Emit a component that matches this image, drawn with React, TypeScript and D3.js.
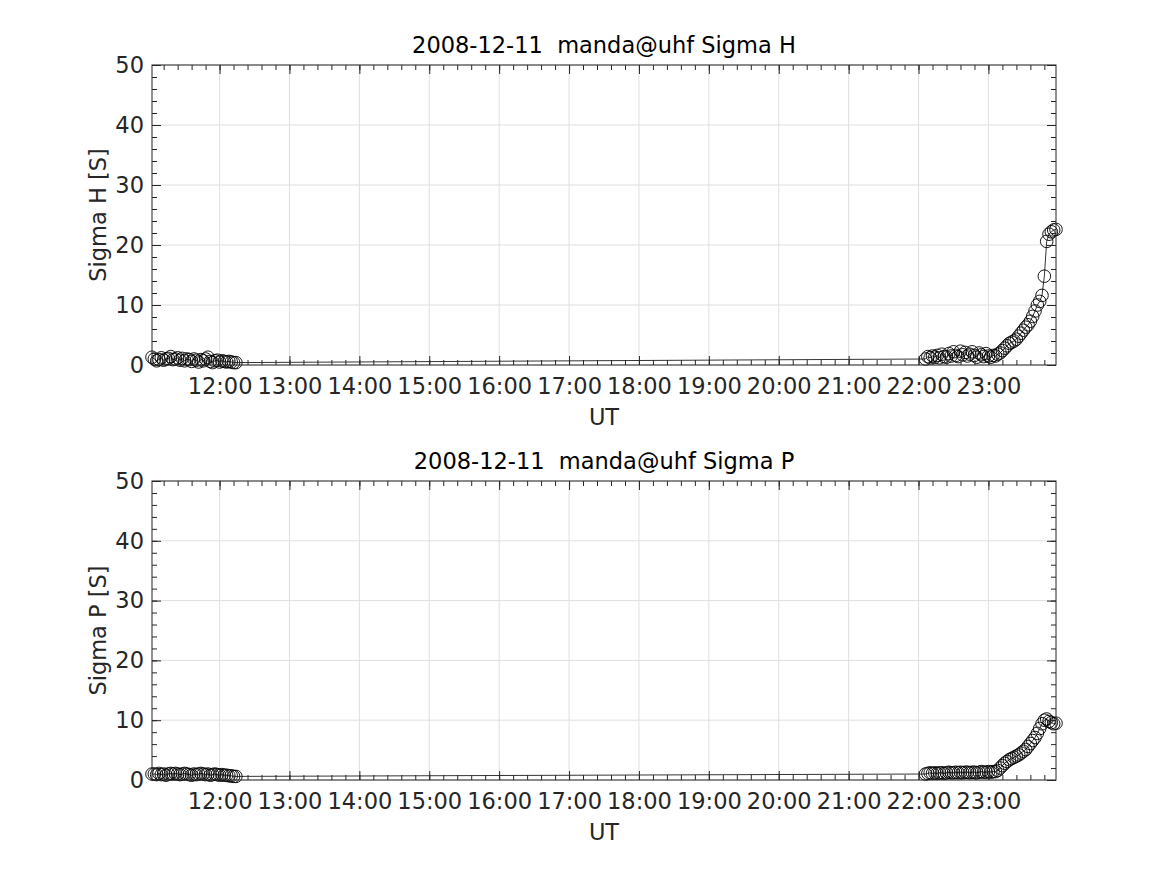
import React from "react";
import * as d3 from "d3";

// UT sample times (2008-12-11)
const times = [
  "11:02", "11:04", "11:06", "11:08", "11:10", "11:12", "11:14", "11:16", "11:18", "11:20",
  "11:22", "11:24", "11:26", "11:28", "11:30", "11:32", "11:34", "11:36", "11:38", "11:40",
  "11:42", "11:44", "11:46", "11:48", "11:50", "11:52", "11:54", "11:56", "11:58",
  "12:00", "12:02", "12:04", "12:06", "12:08", "12:10", "12:12", "12:14",
  "22:06", "22:08", "22:10", "22:12", "22:14", "22:16", "22:18", "22:20", "22:22", "22:24",
  "22:26", "22:28", "22:30", "22:32", "22:34", "22:36", "22:38", "22:40", "22:42", "22:44",
  "22:46", "22:48", "22:50", "22:52", "22:54", "22:56", "22:58",
  "23:00", "23:02", "23:04", "23:06", "23:08", "23:10", "23:12", "23:14", "23:16", "23:18",
  "23:20", "23:22", "23:24", "23:26", "23:28", "23:30", "23:32", "23:34", "23:36", "23:38",
  "23:40", "23:42", "23:44", "23:46", "23:48", "23:50", "23:52", "23:54", "23:56", "23:58",
];

const sigmaH = [
  1.3, 1.0, 0.7, 0.9, 1.2, 0.8, 1.0, 1.1, 1.4, 0.9, 1.0, 1.2, 0.8, 1.1, 0.7, 1.0, 0.9, 0.6, 1.0, 0.8,
  0.5, 0.9, 0.7, 1.0, 1.3, 0.6, 0.4, 0.7, 0.8, 0.5, 0.7, 0.6, 0.5, 0.6, 0.5, 0.4, 0.4,
  1.0, 1.4, 1.2, 1.5, 1.3, 1.6, 1.2, 1.8, 1.4, 1.3, 1.9, 1.5, 2.2, 1.6, 1.4, 2.3, 1.7, 2.1, 1.5, 1.8,
  2.2, 1.6, 1.3, 2.0, 1.7, 1.4, 1.9, 1.5, 1.3, 1.6, 1.5,
  1.8, 2.0, 2.4, 2.8, 3.2, 3.6, 3.8, 4.0, 4.3, 4.8, 5.3, 5.8, 6.3, 6.7, 7.3, 8.1, 9.0, 10.0, 10.6, 11.6,
  14.8, 20.6, 21.8, 22.2, 22.5, 22.6,
];

const sigmaP = [
  1.0, 1.0, 0.9, 1.1, 0.9, 1.0, 0.8, 1.0, 1.1, 1.0, 1.1, 1.0, 0.9, 1.0, 1.1, 1.0, 0.9, 0.8, 1.0, 0.9,
  1.0, 1.1, 1.0, 0.9, 1.0, 0.8, 0.9, 1.0, 0.9, 0.8, 0.9, 0.8, 0.8, 0.7, 0.7, 0.6, 0.6,
  1.0, 1.1, 1.2, 1.1, 1.2, 1.1, 1.2, 1.2, 1.1, 1.2, 1.3, 1.2, 1.2, 1.3, 1.2, 1.3, 1.2, 1.3, 1.3, 1.2,
  1.3, 1.3, 1.2, 1.3, 1.4, 1.3, 1.3, 1.4, 1.3, 1.4, 1.4,
  1.6, 2.0, 2.4, 2.8, 3.1, 3.4, 3.6, 3.8, 4.0, 4.2, 4.5, 4.8, 5.1, 5.6, 6.1, 6.6, 7.1, 7.8, 8.6, 9.4,
  10.0, 10.2, 9.8, 9.6, 9.4, 9.5,
];

const yTicks = [0, 10, 20, 30, 40, 50];
const dateLabel = "2008-12-11";
const site = "manda@uhf";

const panels = [
  { name: "Sigma H", values: sigmaH, top: 65, bottom: 365 },
  { name: "Sigma P", values: sigmaP, top: 481, bottom: 780 },
];

const W = 1167, H = 875;
const left = 152, right = 1056;
const ink = "#262626";
const font = "'DejaVu Sans', sans-serif";

const App = () => {
  const ref = React.useRef(null);

  React.useEffect(() => {
    const svg = d3.select(ref.current);
    svg.selectAll("*").remove();

    const parse = d3.utcParse("%H:%M");
    const t = times.map((s) => parse(s));

    const x = d3.scaleUtc().domain(d3.extent(t)).range([left, right]);
    const majorX = x.ticks(d3.utcHour.every(1));
    const minorX = x.ticks(d3.utcMinute.every(12));

    panels.forEach((p) => {
      const y = d3.scaleLinear().domain([0, 50]).range([p.bottom, p.top]);
      const minorY = d3.range(0, 51, 2);
      const g = svg.append("g");
      const pts = t.map((d, i) => [d, p.values[i]]);

      // grid
      g.append("g")
        .selectAll("line")
        .data(majorX)
        .join("line")
        .attr("x1", (d) => x(d)).attr("x2", (d) => x(d))
        .attr("y1", p.top).attr("y2", p.bottom)
        .attr("stroke", "#dfdfdf");
      g.append("g")
        .selectAll("line")
        .data(yTicks)
        .join("line")
        .attr("x1", left).attr("x2", right)
        .attr("y1", (d) => y(d)).attr("y2", (d) => y(d))
        .attr("stroke", "#dfdfdf");

      // data line + markers
      g.append("path")
        .datum(pts)
        .attr("fill", "none")
        .attr("stroke", "#000")
        .attr("stroke-width", 0.8)
        .attr("d", d3.line().x((d) => x(d[0])).y((d) => y(d[1])));
      g.append("g")
        .selectAll("circle")
        .data(pts)
        .join("circle")
        .attr("cx", (d) => x(d[0]))
        .attr("cy", (d) => y(d[1]))
        .attr("r", 6.3)
        .attr("fill", "none")
        .attr("stroke", "#000")
        .attr("stroke-width", 0.9);

      // axes, ticks pointing inward on all four sides
      const axes = [
        [d3.axisBottom(x).tickValues(majorX).tickSize(-9).tickPadding(13).tickFormat(d3.utcFormat("%H:%M")), `translate(0,${p.bottom})`],
        [d3.axisBottom(x).tickValues(minorX).tickSize(-5).tickFormat(""), `translate(0,${p.bottom})`],
        [d3.axisTop(x).tickValues(majorX).tickSize(-9).tickFormat(""), `translate(0,${p.top})`],
        [d3.axisTop(x).tickValues(minorX).tickSize(-5).tickFormat(""), `translate(0,${p.top})`],
        [d3.axisLeft(y).tickValues(yTicks).tickSize(-9).tickPadding(8), `translate(${left},0)`],
        [d3.axisLeft(y).tickValues(minorY).tickSize(-5).tickFormat(""), `translate(${left},0)`],
        [d3.axisRight(y).tickValues(yTicks).tickSize(-9).tickFormat(""), `translate(${right},0)`],
        [d3.axisRight(y).tickValues(minorY).tickSize(-5).tickFormat(""), `translate(${right},0)`],
      ];
      axes.forEach(([ax, tr]) => {
        const a = g.append("g").attr("transform", tr).call(ax);
        a.select(".domain").remove();
        a.selectAll("line").attr("stroke", ink);
        a.selectAll("text").attr("fill", ink).attr("font-size", 22.5).attr("font-family", font);
      });

      g.append("rect")
        .attr("x", left).attr("y", p.top)
        .attr("width", right - left).attr("height", p.bottom - p.top)
        .attr("fill", "none").attr("stroke", ink);

      // labels
      g.append("text")
        .attr("x", (left + right) / 2).attr("y", p.top - 12)
        .attr("text-anchor", "middle")
        .attr("font-family", font).attr("font-size", 22.5).attr("fill", "#000")
        .attr("xml:space", "preserve")
        .text(`${dateLabel}  ${site} ${p.name}`);
      g.append("text")
        .attr("x", (left + right) / 2).attr("y", p.bottom + 60)
        .attr("text-anchor", "middle")
        .attr("font-family", font).attr("font-size", 22.5).attr("fill", ink)
        .text("UT");
      g.append("text")
        .attr("transform", `translate(106,${(p.top + p.bottom) / 2}) rotate(-90)`)
        .attr("text-anchor", "middle")
        .attr("font-family", font).attr("font-size", 22.5).attr("fill", ink)
        .text(`${p.name} [S]`);
    });
  }, []);

  return (
    <svg ref={ref} width={W} height={H}
      style={{ position: "absolute", left: 0, top: 0, background: "#fff" }}></svg>
  );
};

export default App;
